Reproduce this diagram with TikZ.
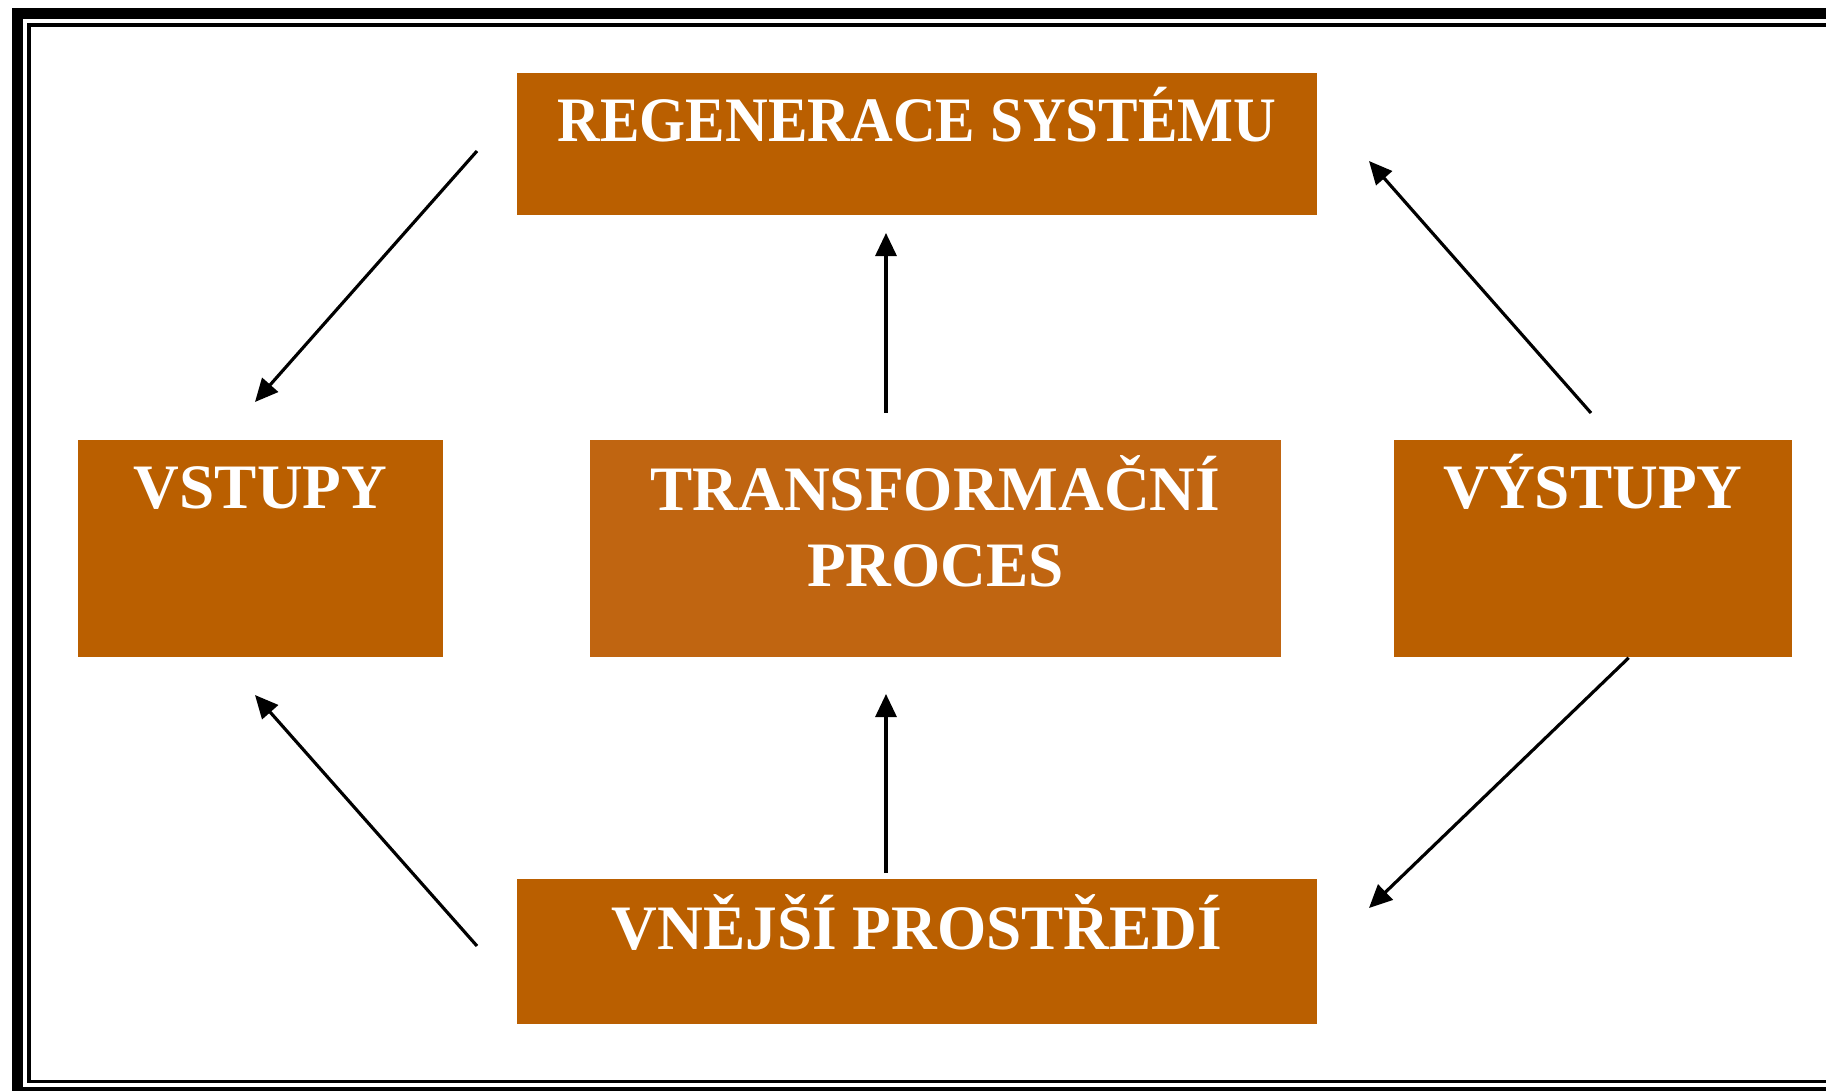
\documentclass[tikz,border=0pt]{standalone}
\usepackage{fontspec}
\setmainfont{Liberation Serif}
\usetikzlibrary{arrows.meta}
\definecolor{rust}{HTML}{BA5F00}
\definecolor{rustlight}{HTML}{C06511}

\begin{document}
\begin{tikzpicture}[x=0.01cm,y=-0.01cm,
    box/.style={rectangle,fill=rust,inner sep=0pt},
    txt/.style={anchor=north,inner sep=0pt,text=white,align=center,
      font=\bfseries\fontsize{18}{21.5}\selectfont,text height=12pt,yshift=-0.26cm},
    arr/.style={-{Triangle[length=0.23cm,width=0.21cm]},line width=0.9pt}]
  \useasboundingbox (0,0) rectangle (1826,1091);
  \clip (0,0) rectangle (1826,1091);
  % frame
  \draw[line width=0.11cm] (17.5,13.5) rectangle (1860,1092.5);
  \draw[line width=0.034cm] (29,25) rectangle (1860,1081.7);
  % boxes
  \node[box,minimum width=8cm,minimum height=1.42cm] (regen) at (917,144) {};
  \node[box,minimum width=3.65cm,minimum height=2.17cm] (vstupy) at (260.5,548.5) {};
  \node[box,fill=rustlight,minimum width=6.91cm,minimum height=2.17cm] (proces) at (935.5,548.5) {};
  \node[box,minimum width=3.98cm,minimum height=2.17cm] (vystupy) at (1593,548.5) {};
  \node[box,minimum width=8cm,minimum height=1.45cm] (okoli) at (917,951.5) {};
  % texts
  \node[txt,xscale=0.935,transform shape] (regen-t) at (regen.north) {REGENERACE SYSTÉMU};
  \node[txt] (vstupy-t) at (vstupy.north) {VSTUPY};
  \node[txt,text height={},yshift=0.1cm] (proces-t) at (proces.north) {TRANSFORMAČNÍ\\PROCES};
  \node[txt] (vystupy-t) at (vystupy.north) {VÝSTUPY};
  \node[txt,yshift=-0.02cm] (okoli-t) at (okoli.north) {VNĚJŠÍ PROSTŘEDÍ};
  % arrow ends
  \coordinate (a1) at (477,151);
  \coordinate (b1) at (255,402);
  \coordinate (a2) at (886,413);
  \coordinate (b2) at (886,233);
  \coordinate (a3) at (1591,413);
  \coordinate (b3) at (1369,161);
  \coordinate (a4) at (477,946);
  \coordinate (b4) at (255,695);
  \coordinate (a5) at (886,873);
  \coordinate (b5) at (886,694);
  \coordinate (b6) at (1369,908);
  % arrows
  \draw[arr] (a1) -- (b1);
  \draw[arr] (a2) -- (b2);
  \draw[arr] (a3) -- (b3);
  \draw[arr] (a4) -- (b4);
  \draw[arr] (a5) -- (b5);
  \draw[arr] (vystupy.south east) ++(-1.64cm,0) -- (b6);
\end{tikzpicture}
\end{document}
